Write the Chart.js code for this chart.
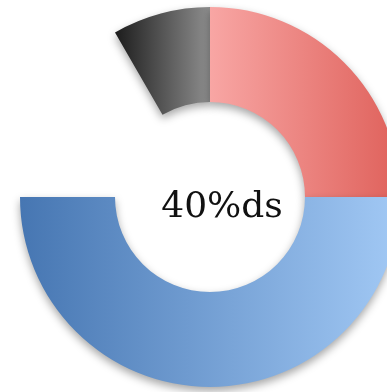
<!DOCTYPE html>
<html>
<head>
<meta charset="utf-8">
<script src="https://cdn.jsdelivr.net/npm/chart.js@4"></script>
<style>
  html, body { margin: 0; padding: 0; background: #fff; overflow: hidden; }
  #wrap { width: 420px; height: 392px; }
</style>
</head>
<body>
<div id="wrap"><canvas id="ring" width="420" height="392"></canvas></div>
<script>
  // ── Data (share of the 300° arc, starting at -30°) ──────────
  const labels = ['Black', 'Red', 'Blue'];
  const values = [10, 30, 60];
  const centerLabel = '40%ds';

  // left → right gradient stops per segment
  const GRADIENTS = [
    ['#1c1c1c', '#8e8e8e'],
    ['#f8a6a4', '#df615b'],
    ['#4676b2', '#a2c9f5']
  ];

  function segmentGradient(context) {
    var chart = context.chart;
    var area = chart.chartArea;
    if (!area) return GRADIENTS[context.dataIndex][0];
    var cx = (area.left + area.right) / 2;
    var r = Math.min(area.right - area.left, area.bottom - area.top) / 2;
    var x0, x1;
    if (context.dataIndex === 0) { x0 = cx - r * 0.5; x1 = cx; }
    else if (context.dataIndex === 1) { x0 = cx; x1 = cx + r; }
    else { x0 = cx - r; x1 = cx + r; }
    var g = chart.ctx.createLinearGradient(x0, 0, x1, 0);
    g.addColorStop(0, GRADIENTS[context.dataIndex][0]);
    g.addColorStop(1, GRADIENTS[context.dataIndex][1]);
    return g;
  }

  var ctx = document.getElementById('ring').getContext('2d');

  new Chart(ctx, {
    type: 'doughnut',
    data: {
      labels: labels,
      datasets: [{
        data: values,
        backgroundColor: segmentGradient,
        borderWidth: 0,
        hoverOffset: 0
      }]
    },
    options: {
      responsive: false,
      animation: false,
      rotation: -30,
      circumference: 300,
      cutout: '50%',
      layout: { padding: { top: 7, bottom: 5, left: 20, right: 20 } },
      plugins: { legend: { display: false }, tooltip: { enabled: false } }
    },
    plugins: [{
      id: 'softShadow',
      beforeDatasetsDraw: function (chart) {
        var c = chart.ctx;
        c.save();
        c.shadowColor = 'rgba(0,0,0,0.35)';
        c.shadowBlur = 8;
        c.shadowOffsetX = 0;
        c.shadowOffsetY = 4;
      },
      afterDatasetsDraw: function (chart) {
        chart.ctx.restore();
      }
    }, {
      id: 'centerText',
      afterDraw: function (chart) {
        var c = chart.ctx;
        var area = chart.chartArea;
        c.save();
        var cx = (area.left + area.right) / 2;
        var cy = (area.top + area.bottom) / 2;
        c.font = '36px "DejaVu Serif", serif';
        c.textAlign = 'center';
        c.textBaseline = 'alphabetic';
        c.fillStyle = '#111';
        c.fillText(centerLabel, cx + 12, cy + 20);
        c.restore();
      }
    }]
  });
</script>
</body>
</html>
